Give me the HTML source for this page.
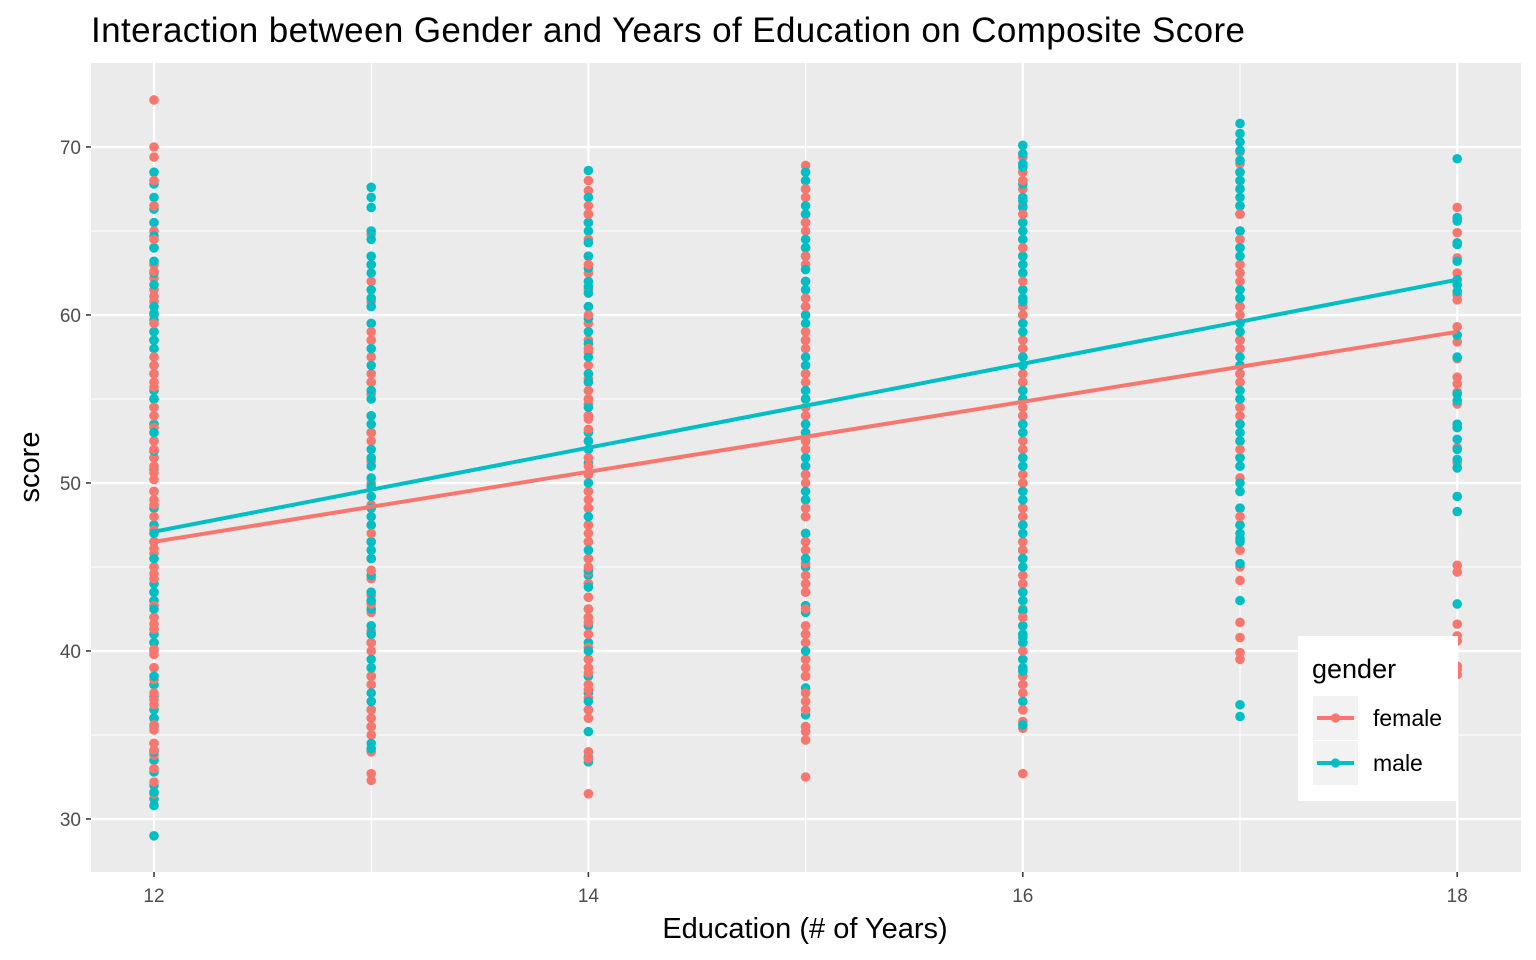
<!DOCTYPE html>
<html><head><meta charset="utf-8"><style>
html,body{margin:0;padding:0;background:#fff;}
svg{display:block;font-family:"Liberation Sans",sans-serif;}
</style></head><body>
<svg id="chart" width="1536" height="960">
<text x="91" y="42" font-size="35" fill="#000" textLength="1154">Interaction between Gender and Years of Education on Composite Score</text>
<rect x="91" y="63" width="1430" height="809" fill="#EBEBEB"/>
<g id="grid"></g>
<g id="points"></g>
<g id="lines"></g>
<g id="axes"></g>
<text x="805" y="938" font-size="29" text-anchor="middle" fill="#000">Education (# of Years)</text>
<text transform="translate(39,467) rotate(-90)" font-size="29" text-anchor="middle" fill="#000">score</text>
<g>
<rect x="1298" y="636" width="160" height="165" fill="#fff"/>
<text x="1312" y="678" font-size="27" fill="#000">gender</text>
<rect x="1313" y="696" width="45" height="44" fill="#F2F2F2"/>
<line x1="1317" y1="718" x2="1354" y2="718" stroke="#F8766D" stroke-width="4"/>
<circle cx="1335.5" cy="718" r="4.6" fill="#F8766D"/>
<text x="1373" y="726" font-size="23" fill="#000">female</text>
<rect x="1313" y="741" width="45" height="44" fill="#F2F2F2"/>
<line x1="1317" y1="763" x2="1354" y2="763" stroke="#00BFC4" stroke-width="4"/>
<circle cx="1335.5" cy="763" r="4.6" fill="#00BFC4"/>
<text x="1373" y="771" font-size="23" fill="#000">male</text>
</g>
</svg>
<script>
const xTicks = [12, 14, 16, 18];
const xMinor = [13, 15, 17];
const yTicks = [30, 40, 50, 60, 70];
const yMinor = [35, 45, 55, 65, 75];
const eduLevels = [12, 13, 14, 15, 16, 17, 18];
const female12 = [72.8,70,69.4,68,66.5,65,64,63,62.2,61.5,60.8,60,59,58.5,57.5,56.5,55.7,55,54,53.3,52.5,51.5,51,50.2,49.5,48.7,48,47.2,46.5,45.8,45,44.3,43.5,42.7,42,41.3,40.5,39.8,39,38.3,37.5,36.8,36,35.3,34.5,33.8,33,32.2,31.5,64.5,62.6,61.1,59.5,57,56,54.5,52,50.6,49,46.1,44.6,41.6,40.1,37.1,35.6,34.1];
const male12 = [68.5,67.8,67,66.3,65.5,64.7,64,63.2,62.5,61.8,60.5,59.7,59,58,56.5,55.5,54.5,53.5,52.5,51.5,50.8,49.5,48.5,47.5,46.5,45,44,43,42,41,40,39,38,37.3,36.5,35.5,34.5,33.5,32.8,32,31.2,30.8,29,61.1,60.1,58.5,57,55,53,51.9,47,45.5,43.5,42.5,40.5,38.5,36,34,31.6];
const female13 = [64.8,63,62,60.8,59.5,58.5,57.5,56.5,55.3,54,52.5,51.3,50,48.7,47.5,46.5,45.5,44.3,43.3,42.3,41.2,40,39,38,37,36,35,34,32.7,32.3,59,56,53,47,44.8,42.8,40.5,38.5,36.5,35.5];
const male13 = [67.6,67,66.4,64.5,63.5,62.5,61.5,60.5,59.5,58,57,56,55,54,53,52,51,50.3,49.8,49.2,48.5,47.5,46.5,45.5,44.5,43.5,42.5,41.5,40.5,39.5,38.5,37.5,36.5,35.5,34.5,34.2,65,63,61,55.5,53.5,51.5,48,46,43,41,39,37];
const female14 = [68,67.4,66.5,65.5,64.5,63.5,62.5,61.5,60.5,59.5,58.5,57.8,57,56.2,55.5,54.7,54,53.2,52.5,51.5,50.5,49.5,48.5,47.5,46.5,45.5,44.7,44,43.2,42.5,41.7,41,40.2,39.5,38.7,38,37.2,36.5,36,34,33.6,31.5,66,63,60,58,55,53.8,51,49,47,45,42,39,37.7];
const male14 = [68.6,67,66,65,64.3,63.5,62.8,62,61.3,60.5,59.8,59,57.5,56,55,54,53,52,51.2,50.5,49.5,48.5,47.5,46.5,45.5,44.5,44,43.2,42.5,41.5,40.5,39.5,38.5,37.5,36.5,35.2,33.7,33.4,65.5,61.7,58.3,56.5,54.5,52.5,50,48,46,44.8,43.8,42,40,37];
const female15 = [68.9,68,67,66,65,64,63,62,61,60,59,58,57,56,55,54,53,52,51,50,49,48,47,46,45.2,44.5,43.5,42.5,41.5,40.5,39.5,38.5,37.5,36.5,35.5,34.7,32.5,67.5,65.5,63.5,60.5,58.5,56.5,54.5,52.5,50.5,48.5,46.5,44,41,39,37,35.2];
const male15 = [68.5,67.5,66.5,65.5,64.5,63.5,62.7,61.5,60.5,59.5,58.5,57.5,56.5,55.5,54.5,53.5,52.5,51.5,50.5,49.5,48,46.5,45,44,42.7,42.3,41,39.5,38.5,37.8,36.2,35.5,68,66,64,62,60,57,55,53,51,49,47,45.5,40,37];
const female16 = [69.4,68.5,67.5,66.5,65.5,64.5,63.5,62.5,61.5,60.5,59.5,58.5,57.5,56.5,55.5,54.5,53.5,52.5,51.5,50.5,49.5,48.5,47.5,46.5,45.5,44.5,43.5,42.5,41.5,40.5,39.5,38.5,37.5,35.8,35.4,32.7,68,66,64,62,60,58,56,54,52,50,48,46,44,42,40,38,36.5];
const male16 = [70.1,69.6,68.8,67.8,66.8,66.4,65.5,64.5,63.5,62.5,61.5,60.8,60,59,58,57,56,55,54,53,52,51,50,49,48,47,46,45,44,43,42.4,41.5,40.8,40.5,39.5,38.8,38,37,35.6,69,67,65,63,61,59.5,57.5,55.5,53.5,51.5,49.5,47.5,45.5,43.5,41,39];
const female17 = [69.7,69,68.5,67.5,66.5,65,64,63,62,61,60,59,58,57,56,55,54,53.5,52.5,51.5,50.3,49.5,48.5,47.5,46,45,44.2,41.7,40.8,39.9,39.5,68,66,64.5,62.5,60.5,58.5,56.5,54.5,52,48];
const male17 = [71.4,70.8,70.3,69.8,69.2,68.5,67.5,66.5,66,65,64.5,63.5,62.5,61.5,60.5,59.5,58.5,57.5,56.5,55.5,54.5,53.5,52.5,51.5,51,49.5,48.5,47.5,46.7,46.5,45.2,43,36.8,36.1,68,67,64,61,59,57,55,53,50,47];
const female18 = [66.4,64.9,63.4,62.5,61.2,60.9,59.3,58.4,57.4,56.3,55.9,55.4,54.7,53.3,52.1,51.2,50.9,45.1,44.7,41.6,40.9,40.6,39.1,38.9,38.6];
const male18 = [69.3,65.8,65.6,64.3,64.2,63.2,62.1,61.8,61.4,58.8,57.5,55.3,54.9,53.5,53.3,52.6,52,51.4,50.9,49.2,48.3,42.8];
const femaleFit = [46.5, 59.0];
const maleFit = [47.1, 62.1];

const NS = 'http://www.w3.org/2000/svg';
function sx(v){ return 154 + (v-12)*217.2; }
function sy(v){ return 819 - (v-30)*16.8; }
function mk(tag, attrs, parent){
  const e = document.createElementNS(NS, tag);
  for (const k in attrs) e.setAttribute(k, attrs[k]);
  parent.appendChild(e); return e;
}
const grid = document.getElementById('grid');
const axes = document.getElementById('axes');
yMinor.forEach(v=>{ const y=sy(v); if(y>63&&y<872){ const l=mk('line',{x1:91,x2:1521,y1:y,y2:y,stroke:'#fff','stroke-width':1},grid);

 }});
xMinor.forEach(v=>{ const x=sx(v); const l=mk('line',{x1:x,x2:x,y1:63,y2:872,stroke:'#fff','stroke-width':1},grid);

 });
yTicks.forEach(v=>{ const y=sy(v);
  const l=mk('line',{x1:91,x2:1521,y1:y,y2:y,stroke:'#fff','stroke-width':2.2},grid);
  
  
  mk('line',{x1:86,x2:91,y1:y,y2:y,stroke:'#333','stroke-width':1.5},axes);
  const t=mk('text',{x:81,y:y+7,'font-size':19,'text-anchor':'end',fill:'#4D4D4D'},axes);
  t.textContent=v;
  
  
});
xTicks.forEach(v=>{ const x=sx(v);
  const l=mk('line',{x1:x,x2:x,y1:63,y2:872,stroke:'#fff','stroke-width':2.2},grid);
  
  
  mk('line',{x1:x,x2:x,y1:872,y2:877,stroke:'#333','stroke-width':1.5},axes);
  const t=mk('text',{x:x,y:902,'font-size':19,'text-anchor':'middle',fill:'#4D4D4D'},axes);
  t.textContent=v;
  
  
});
const pts = document.getElementById('points');
const fem = [female12,female13,female14,female15,female16,female17,female18];
const mal = [male12,male13,male14,male15,male16,male17,male18];
eduLevels.forEach((edu,i)=>{
  const f=fem[i], m=mal[i], n=Math.max(f.length,m.length);
  for(let j=0;j<n;j++){
    if(j<f.length){ const c=mk('circle',{cx:sx(edu),cy:sy(f[j]),r:4.8,fill:'#F8766D'},pts);
      
       }
    if(j<m.length){ const c=mk('circle',{cx:sx(edu),cy:sy(m[j]),r:4.8,fill:'#00BFC4'},pts);
      
       }
  }
});
const lines = document.getElementById('lines');
const lf=mk('line',{x1:sx(12),y1:sy(femaleFit[0]),x2:sx(18),y2:sy(femaleFit[1]),stroke:'#F8766D','stroke-width':4},lines);


const lm=mk('line',{x1:sx(12),y1:sy(maleFit[0]),x2:sx(18),y2:sy(maleFit[1]),stroke:'#00BFC4','stroke-width':4},lines);


</script>
</body></html>
